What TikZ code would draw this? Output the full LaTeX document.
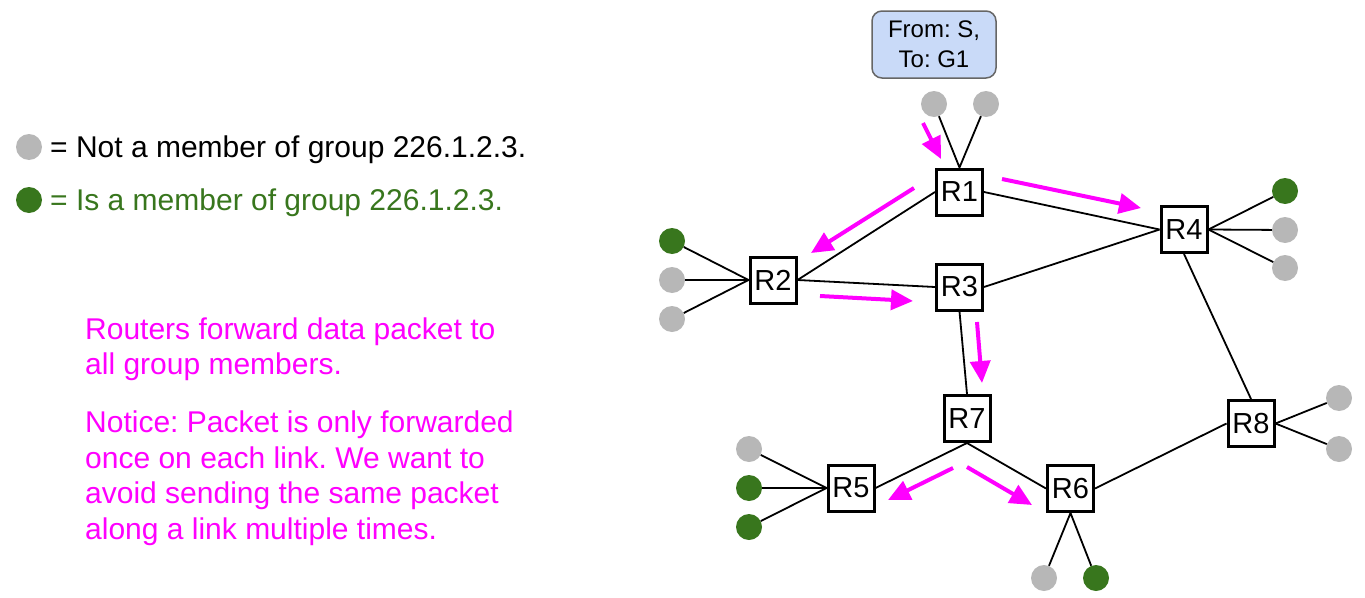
\documentclass[tikz,border=0pt]{standalone}
\usepackage{fontspec}
\setmainfont{Liberation Sans}
\usetikzlibrary{arrows.meta}
\definecolor{hostgrey}{HTML}{B7B7B7}
\definecolor{membergreen}{HTML}{38761D}
\definecolor{pktmagenta}{HTML}{FF00FF}
\definecolor{notefill}{HTML}{C9DAF8}
\definecolor{noteedge}{HTML}{666666}
\frenchspacing
\begin{document}
\begin{tikzpicture}[x=1pt,y=-1pt,
  router/.style={draw, line width=3pt, minimum size=46pt, inner sep=0pt,
    font=\fontsize{29}{32}\selectfont},
  nonmember/.style={circle, fill=hostgrey, minimum size=26pt, inner sep=0pt},
  member/.style={circle, fill=membergreen, minimum size=26pt, inner sep=0pt},
  link/.style={line width=1.8pt},
  flow/.style={pktmagenta, line width=4pt, -{Triangle[length=22pt,width=20pt]}},
  legendtext/.style={anchor=base west, inner sep=0pt, font=\fontsize{30}{34}\selectfont},
  notetext/.style={anchor=base west, inner sep=0pt, text=pktmagenta,
    font=\fontsize{30}{34}\selectfont},
  header/.style={draw=noteedge, fill=notefill, line width=1.5pt, rounded corners=10pt,
    minimum width=124pt, minimum height=67pt, inner sep=0pt, align=center,
    font=\fontsize{24}{30}\selectfont}
]
\useasboundingbox (0,0) rectangle (1365,597);

% legend
\node[nonmember] (lg1) at (29,147) {};
\node[member] (lg2) at (29,200) {};
\node[legendtext] (lt1) at (50,157) {= Not a member of group 226.1.2.3.};
\node[legendtext, text=membergreen] (lt2) at (50,210) {= Is a member of group 226.1.2.3.};

% explanation
\node[notetext] (n1) at (85,339) {Routers forward data packet to};
\node[notetext] (n2) at (85,374) {all group members.};
\node[notetext] (n3) at (85,432) {Notice: Packet is only forwarded};
\node[notetext] (n4) at (85,468) {once on each link. We want to};
\node[notetext] (n5) at (85,503) {avoid sending the same packet};
\node[notetext] (n6) at (85,539) {along a link multiple times.};

% packet header
\node[header] (hdr) at (934,44.5) {From: S,\\To: G1};

% routers
\node[router] (R1) at (959.5,192) {R1};
\node[router] (R2) at (773,280) {R2};
\node[router] (R3) at (959.5,287) {R3};
\node[router] (R4) at (1184,229.5) {R4};
\node[router] (R5) at (851,488) {R5};
\node[router] (R6) at (1070.5,488.5) {R6};
\node[router] (R7) at (967,418.5) {R7};
\node[router] (R8) at (1251,423.5) {R8};

% hosts
\node[nonmember] (h1a) at (934,104) {};
\node[nonmember] (h1b) at (986,104) {};
\node[member]    (h2a) at (672,241) {};
\node[nonmember] (h2b) at (672,280) {};
\node[nonmember] (h2c) at (672,319) {};
\node[member]    (h4a) at (1285,191) {};
\node[nonmember] (h4b) at (1285,230) {};
\node[nonmember] (h4c) at (1285,268) {};
\node[nonmember] (h8a) at (1339,398) {};
\node[nonmember] (h8b) at (1339,449) {};
\node[nonmember] (h5a) at (749,449) {};
\node[member]    (h5b) at (749,488) {};
\node[member]    (h5c) at (749,527) {};
\node[nonmember] (h6a) at (1044,578) {};
\node[member]    (h6b) at (1096,578) {};

% host links
\draw[link] (h1a) -- (R1.north) -- (h1b);
\draw[link] (h2a) -- (R2.west);
\draw[link] (h2b) -- (R2.west);
\draw[link] (h2c) -- (R2.west);
\draw[link] (h4a) -- (R4.east);
\draw[link] (h4b) -- (R4.east);
\draw[link] (h4c) -- (R4.east);
\draw[link] (h8a) -- (R8.east);
\draw[link] (h8b) -- (R8.east);
\draw[link] (h5a) -- (R5.west);
\draw[link] (h5b) -- (R5.west);
\draw[link] (h5c) -- (R5.west);
\draw[link] (h6a) -- (R6.south) -- (h6b);

% router links
\draw[link] (R1.west) -- (R2.east);
\draw[link] (R1.east) -- (R4.west);
\draw[link] (R2.east) -- (R3.west);
\draw[link] (R3.east) -- (R4.west);
\draw[link] (R3.south) -- (R7.north);
\draw[link] (R4.south) -- (R8.north);
\draw[link] (R7.south) -- (R5.east);
\draw[link] (R7.south) -- (R6.west);
\draw[link] (R6.east) -- (R8.west);

% packet flow
\coordinate (f0s) at (923,123);  \coordinate (f0e) at (941,159);
\coordinate (f1s) at (1002,179); \coordinate (f1e) at (1141,208);
\coordinate (f2s) at (914,188);  \coordinate (f2e) at (811,253);
\coordinate (f3s) at (820,296);  \coordinate (f3e) at (913,301);
\coordinate (f4s) at (977,322);  \coordinate (f4e) at (982,383);
\coordinate (f5s) at (953,468);  \coordinate (f5e) at (888,500);
\coordinate (f6s) at (967,467);  \coordinate (f6e) at (1032,505);
\foreach \k in {0,...,6} \draw[flow] (f\k s) -- (f\k e);
\end{tikzpicture}
\end{document}
